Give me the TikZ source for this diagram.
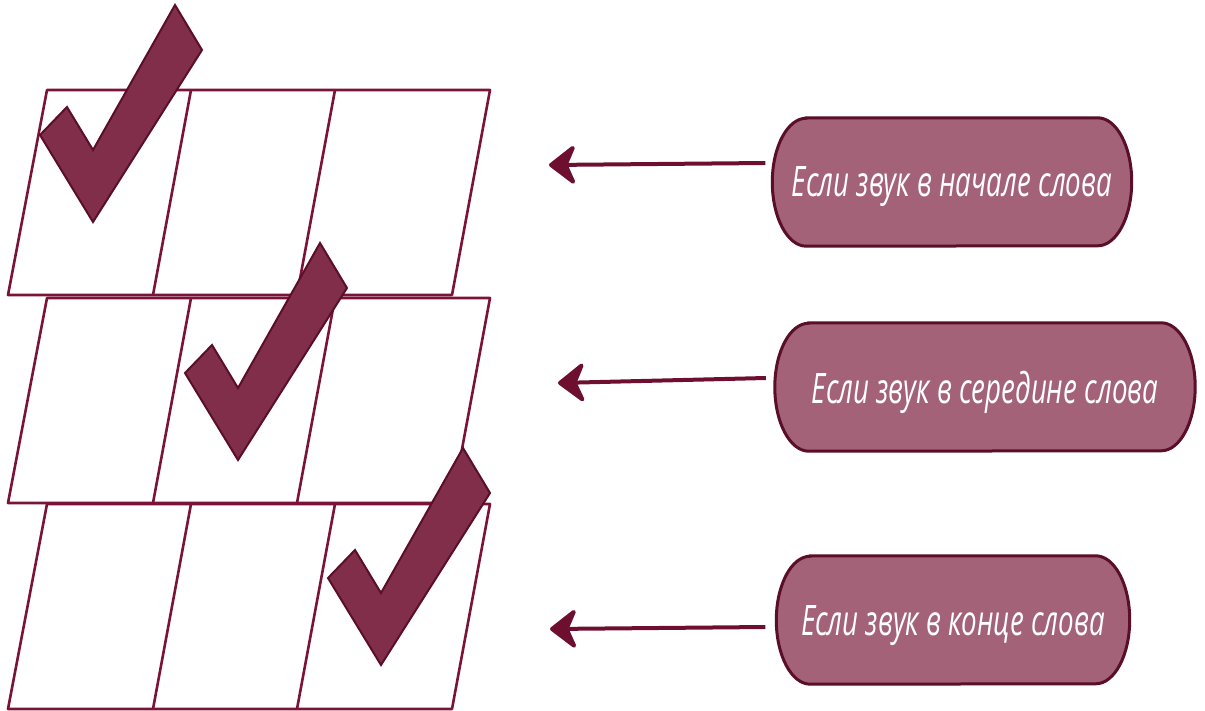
\documentclass[tikz,border=0pt]{standalone}
\usepackage{fontspec}
\newfontfamily\pillfont[FakeStretch=0.66]{Open Sans}
\usepackage{tikz}
\usetikzlibrary{positioning,arrows.meta,backgrounds}
\definecolor{gridline}{HTML}{7B1339}
\definecolor{tickfill}{HTML}{812E4A}
\definecolor{tickedge}{HTML}{5B0E27}
\definecolor{pillfill}{HTML}{A46278}
\definecolor{pilledge}{HTML}{5A0E28}
\definecolor{arrowcol}{HTML}{6E0F30}

\begin{document}
\begin{tikzpicture}[
    x=1pt,y=-1pt,
    cell/.style={draw=gridline,line width=2.6pt,line join=round},
    tick/.style={fill=tickfill,draw=tickedge,line width=2pt,line join=miter},
    pill/.style={rectangle,minimum height=128pt,inner sep=0pt,align=center,text depth=0pt,
      text=white,font=\pillfont\itshape\fontsize{42}{44}\selectfont},
    pillbody/.style={fill=pillfill,draw=pilledge,line width=3pt},
    arr/.style={draw=arrowcol,line width=4pt,
      -{Stealth[length=30pt,width=46pt,inset=10pt,round]}},
  ]
  \useasboundingbox (0,0) rectangle (1205,710);

  % three rows of slanted cells
  \foreach \t in {90,298,504} {
    \draw[cell] (47,\t) -- (490,\t) -- (452,\t+205) -- (8,\t+205) -- cycle;
    \draw[cell] (191,\t) -- (153,\t+205);
    \draw[cell] (335,\t) -- (297,\t+205);
  }

  % check marks
  \foreach \dx/\dy in {0/0,145/238,288/443}
    \draw[tick] (40+\dx,135+\dy) -- (67+\dx,107+\dy) -- (93+\dx,150+\dy)
      -- (175+\dx,5+\dy) -- (202+\dx,50+\dy) -- (93+\dx,222+\dy) -- cycle;

  % labels
  \node[pill,minimum width=359pt] (first) at (952,182) {Если звук в начале слова};
  \node[pill,minimum width=420pt] (mid) at (985,387) {Если звук в середине слова};
  \node[pill,minimum width=353pt] (last) at (953,620) {Если звук в конце слова};

  \begin{scope}[on background layer]
    \foreach \n in {first,mid,last}
      \filldraw[pillbody] ([xshift=34pt]\n.north west) -- ([xshift=-34pt]\n.north east)
        arc[start angle=90,end angle=-90,x radius=34pt,y radius=64pt]
        -- ([xshift=34pt]\n.south west)
        arc[start angle=270,end angle=90,x radius=34pt,y radius=64pt] -- cycle;
  \end{scope}

  \coordinate (t1) at (549,165);
  \coordinate (t2) at (558,383);
  \coordinate (t3) at (550,629);
  \draw[arr] ([xshift=-7pt,yshift=19pt]first.west) -- (t1);
  \draw[arr] ([xshift=-9pt,yshift=9pt]mid.west) -- (t2);
  \draw[arr] ([xshift=-11pt,yshift=-7pt]last.west) -- (t3);
\end{tikzpicture}
\end{document}
